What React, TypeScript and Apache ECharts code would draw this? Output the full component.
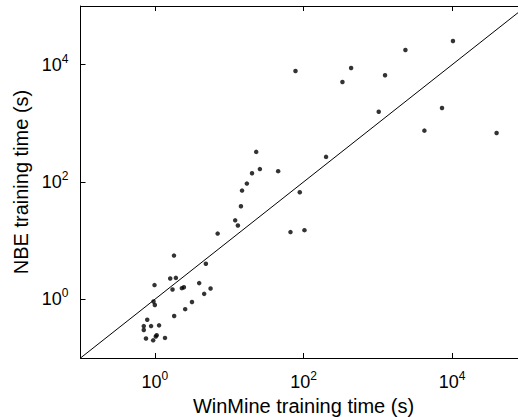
import React, { useEffect, useRef } from "react";
import * as echarts from "echarts";

// WinMine training time (s)
const winmineTimes: number[] = [
  1.81, 4.86, 1.61, 1.92, 0.99, 1.73, 2.31, 2.46, 3.95, 5.62,
  4.61, 0.96, 1.0, 3.16, 2.56, 1.82, 0.79, 0.71, 0.71, 0.89,
  1.14, 0.76, 0.95, 1.03, 1.06, 1.37,
  23.1, 25.9, 20.3, 45.6, 17.3, 14.9, 89.1, 14.4, 12.05, 13.1,
  7.0, 66.8, 103, 201,
  78, 437, 334, 1250, 2350, 1028, 4230, 10250, 7300, 39600,
];

// NBE training time (s)
const nbeTimes: number[] = [
  5.57, 4.03, 2.26, 2.32, 1.75, 1.47, 1.55, 1.61, 1.89, 1.53,
  1.24, 0.92, 0.8, 0.9, 0.68, 0.52, 0.45, 0.35, 0.3, 0.35,
  0.36, 0.215, 0.2, 0.232, 0.245, 0.22,
  326, 166, 141, 153, 94, 71.4, 67, 38.7, 22.2, 18.1,
  13.2, 14.0, 15.1, 268,
  7810, 8790, 5070, 6600, 17800, 1580, 751, 25300, 1830, 686,
];

const axisMin = 0.1;
const axisMax = 100000;
const tickValues = [1, 100, 10000];
const diagonal: number[][] = [
  [axisMin, axisMin],
  [axisMax, axisMax],
];

const FONT = "'Liberation Sans', Arial, Helvetica, sans-serif";

function supLabel(v: number): string {
  const e = Math.round(Math.log10(v));
  return `{b|10}{s|${e}}`;
}

const richStyle = {
  b: { fontSize: 18, lineHeight: 24, color: "#000", fontFamily: FONT },
  s: { fontSize: 12, lineHeight: 12, verticalAlign: "top", color: "#000", fontFamily: FONT },
};

export default function App() {
  const ref = useRef<HTMLDivElement>(null);

  useEffect(() => {
    if (!ref.current) return;
    const chart = echarts.init(ref.current, undefined, { renderer: "svg" });
    const points = winmineTimes.map((x, i) => [x, nbeTimes[i]]);
    const axisLine = { show: true, lineStyle: { color: "#000", width: 1 } };
    chart.setOption({
      animation: false,
      backgroundColor: "#fff",
      textStyle: { fontFamily: FONT },
      grid: {
        left: 80.5,
        top: 6,
        width: 446,
        height: 352,
        containLabel: false,
        outerBoundsMode: "none",
      },
      xAxis: [
        {
          type: "log",
          logBase: 10,
          min: axisMin,
          max: axisMax,
          position: "bottom",
          name: "WinMine training time (s)",
          nameLocation: "middle",
          nameGap: 38,
          nameTextStyle: { fontSize: 20, color: "#000", fontFamily: FONT },
          axisLine,
          axisTick: { show: true, inside: true, length: 5, customValues: tickValues, lineStyle: { color: "#000" } },
          axisLabel: {
            show: true,
            margin: 12,
            customValues: tickValues,
            formatter: (v: number) => supLabel(v),
            rich: richStyle,
          },
          splitLine: { show: false },
          minorTick: { show: false },
        },
        {
          type: "log",
          logBase: 10,
          min: axisMin,
          max: axisMax,
          position: "top",
          axisLine,
          axisTick: { show: true, inside: true, length: 5, customValues: tickValues, lineStyle: { color: "#000" } },
          axisLabel: { show: false },
          splitLine: { show: false },
        },
      ],
      yAxis: [
        {
          type: "log",
          logBase: 10,
          min: axisMin,
          max: axisMax,
          position: "left",
          name: "NBE training time (s)",
          nameLocation: "middle",
          nameGap: 45,
          nameTextStyle: { fontSize: 20, color: "#000", fontFamily: FONT },
          axisLine,
          axisTick: { show: true, inside: true, length: 5, customValues: tickValues, lineStyle: { color: "#000" } },
          axisLabel: {
            show: true,
            margin: 12,
            customValues: tickValues,
            formatter: (v: number) => supLabel(v),
            rich: richStyle,
          },
          splitLine: { show: false },
        },
      ],
      series: [
        {
          type: "line",
          data: diagonal,
          xAxisIndex: 0,
          yAxisIndex: 0,
          showSymbol: false,
          symbol: "none",
          lineStyle: { color: "#000", width: 1 },
          silent: true,
        },
        {
          type: "scatter",
          data: points,
          xAxisIndex: 0,
          yAxisIndex: 0,
          symbol: "circle",
          symbolSize: 4.5,
          itemStyle: { color: "#000" },
        },
      ],
    });
    return () => chart.dispose();
  }, []);

  return (
    <div
      ref={ref}
      style={{ position: "absolute", left: 0, top: 0, width: 518, height: 417, background: "#fff" }}
    />
  );
}
